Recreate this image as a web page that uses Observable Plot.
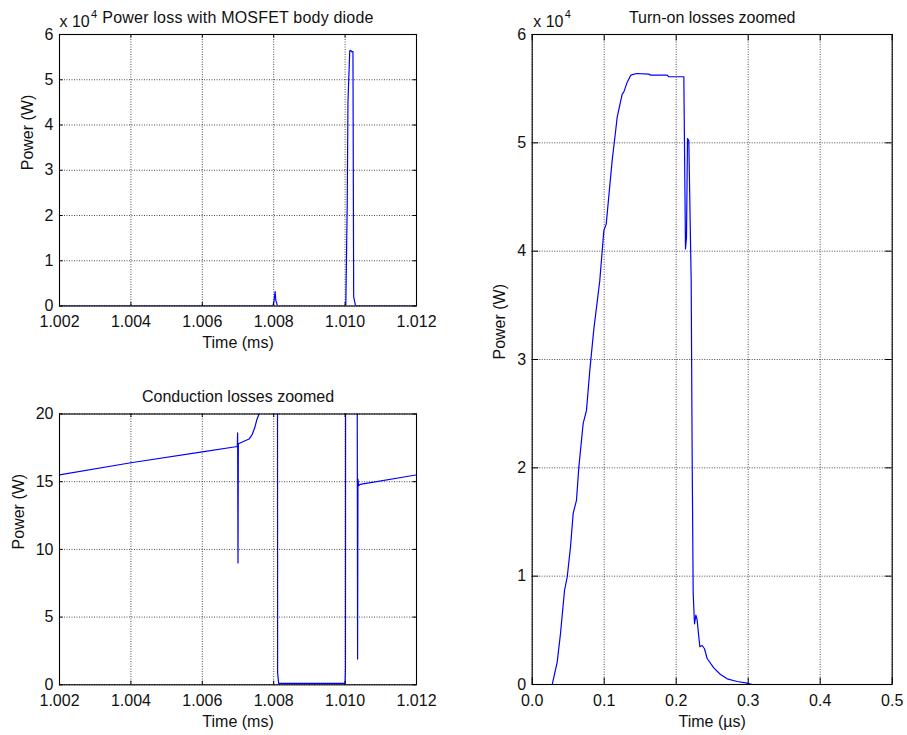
<!DOCTYPE html>
<html><head><meta charset="utf-8">
<script src="https://cdn.jsdelivr.net/npm/d3@7"></script>
<script src="https://cdn.jsdelivr.net/npm/@observablehq/plot@0.6"></script>
<style>
body{margin:0;background:#fff;}
#fig{position:relative;width:907px;height:735px;font-family:"Liberation Sans",Arial,sans-serif;}
#fig > div{position:absolute;}
</style></head><body><div id="fig"></div>
<script>
// Switching power loss of the MOSFET (time in ms, power in W)
const lossTime = [1.0020, 1.0040, 1.0060, 1.00698, 1.00699, 1.00700, 1.00701, 1.00731, 1.00740, 1.00747, 1.00753, 1.00759, 1.00762, 1.00770, 1.00785, 1.00798, 1.00801, 1.00804, 1.00806, 1.00809, 1.00810, 1.00811, 1.00812, 1.00814, 1.01000, 1.01001, 1.01002, 1.01006, 1.01008, 1.01013, 1.01016, 1.01018, 1.01022, 1.01024, 1.01029, 1.01033, 1.01035, 1.01036, 1.01038, 1.01042, 1.01200];
const lossPower = [15.5, 16.4, 17.2, 17.6, 18.6, 9.0, 17.8, 18.15, 18.5, 19.0, 19.6, 20.0, 30, 45, 60, 80, 1200, 3200, 1200, 500, 60, 0.9, 0.6, 0.1, 0.1, 1.3, 60, 23000, 45000, 56400, 56500, 56200, 56200, 2000, 150, 40, 1.9, 15.2, 14.7, 14.8, 15.5];

// Turn-on transient (time in µs, power in W)
const turnOnTime = [0, 0.0278, 0.0347, 0.0393, 0.0449, 0.0486, 0.0532, 0.0569, 0.0615, 0.0647, 0.0708, 0.0754, 0.0800, 0.0856, 0.0893, 0.0939, 0.0995, 0.1028, 0.1111, 0.1157, 0.1181, 0.1250, 0.1273, 0.1320, 0.1365, 0.1389, 0.1458, 0.1620, 0.1643, 0.1875, 0.1897, 0.2106, 0.2129, 0.2143, 0.2157, 0.2175, 0.2208, 0.2222, 0.2236, 0.2254, 0.2273, 0.2290, 0.2314, 0.2328, 0.2360, 0.2393, 0.2430, 0.2522, 0.2615, 0.2708, 0.2847, 0.2986, 0.3056, 0.5000];
const turnOnPower = [0, 0, 2060, 4700, 8700, 9900, 12700, 15800, 17000, 20000, 24100, 25300, 29000, 32800, 34800, 37300, 41900, 42500, 48400, 51000, 52400, 54500, 54700, 55600, 56200, 56300, 56400, 56350, 56250, 56250, 56100, 56100, 40200, 41300, 50400, 50200, 37300, 20700, 8400, 5600, 6400, 6000, 4400, 3500, 3600, 3300, 2400, 1540, 920, 520, 280, 120, 0, 0];

// Ticks and labels
const msTicks = [1.002, 1.004, 1.006, 1.008, 1.010, 1.012];
const usTicks = [0, 0.1, 0.2, 0.3, 0.4, 0.5];
const e4Ticks = [0, 1, 2, 3, 4, 5, 6];
const condTicks = [0, 5, 10, 15, 20];
const titles = ["Power loss with MOSFET body diode", "Conduction losses zoomed", "Turn-on losses zoomed"];
const xLabels = ["Time (ms)", "Time (µs)"];
const yLabel = "Power (W)";
const exponentBase = "x 10";
const exponentPower = "4";

const lossData = lossTime.map((t, i) => ({t, p: lossPower[i]}));
const turnOnData = turnOnTime.map((t, i) => ({t, p: turnOnPower[i]}));

const FONT = "Liberation Sans, Arial, Helvetica, sans-serif";
const FS = 16;

function panel(o) {
  const innerW = o.width - o.ml - o.mr;
  const innerH = o.height - o.mt - o.mb;
  const L = o.tickLen;
  const gridStyle = {stroke: "#000", strokeOpacity: 0.7, strokeDasharray: "1,1.5"};
  const marks = [
    Plot.ruleX(o.xTicks, {x: d => d, ...gridStyle}),
    Plot.ruleY(o.yTicks, {y: d => d, ...gridStyle}),
    Plot.line(o.data, {x: "t", y: o.y, stroke: "#0000ff", strokeWidth: 1.2, clip: true}),
    Plot.frame({stroke: "#000", strokeWidth: 1.1}),
    Plot.tickX(o.xTicks, {x: d => d, insetTop: innerH - L, stroke: "#000"}),
    Plot.tickX(o.xTicks, {x: d => d, insetBottom: innerH - L, stroke: "#000"}),
    Plot.tickY(o.yTicks, {y: d => d, insetRight: innerW - L, stroke: "#000"}),
    Plot.tickY(o.yTicks, {y: d => d, insetLeft: innerW - L, stroke: "#000"}),
    Plot.text(o.xTicks, {x: d => d, text: o.xFormat, frameAnchor: "bottom", lineAnchor: "bottom", dy: 21, fontSize: FS, fill: "#111"}),
    Plot.text(o.yTicks, {y: d => d, text: d => String(d), frameAnchor: "left", textAnchor: "end", lineAnchor: "middle", dx: -6, fontSize: FS, fill: "#111"}),
    Plot.text([o.xLabel], {frameAnchor: "bottom", lineAnchor: "bottom", dy: 42, fontSize: FS, fill: "#111"}),
    Plot.text([yLabel], {frameAnchor: "left", rotate: -90, lineAnchor: "middle", dx: o.yLabelDx, fontSize: FS, fill: "#111"}),
    Plot.text([o.title], {frameAnchor: "top", lineAnchor: "bottom", dy: o.titleDy, dx: o.titleDx || 0, fontSize: FS, fill: "#111"})
  ];
  if (o.exponent) {
    marks.push(Plot.text([exponentBase], {frameAnchor: "top-left", textAnchor: "start", lineAnchor: "bottom", dx: o.expDx, dy: -8, fontSize: FS, fill: "#111"}));
    marks.push(Plot.text([exponentPower], {frameAnchor: "top-left", textAnchor: "start", lineAnchor: "bottom", dx: o.expDx + 31.5, dy: -16.5, fontSize: 11, fill: "#111"}));
  }
  const svg = Plot.plot({
    width: o.width, height: o.height,
    marginLeft: o.ml, marginRight: o.mr, marginTop: o.mt, marginBottom: o.mb,
    x: {domain: o.xDomain, axis: null},
    y: {domain: o.yDomain, axis: null},
    style: {fontFamily: FONT, fontSize: FS + "px", background: "transparent", color: "#000", overflow: "visible"},
    marks
  });
  if (o.titleSpacing) {
    d3.select(svg).selectAll("text").filter(function() { return this.textContent === o.title; })
      .attr("letter-spacing", o.titleSpacing);
  }
  return svg;
}

const fig = document.getElementById("fig");
function place(node, left, top) {
  const d = document.createElement("div");
  d.style.left = left + "px"; d.style.top = top + "px";
  d.appendChild(node); fig.appendChild(d);
}

place(panel({
  data: lossData, y: d => d.p / 1e4,
  width: 460, height: 360, ml: 59, mr: 44, mt: 34, mb: 54.5,
  xDomain: [1.002, 1.012], yDomain: [0, 6], xTicks: msTicks, yTicks: e4Ticks,
  xFormat: d3.format(".3f"), xLabel: xLabels[0], title: titles[0], titleDy: -12, titleDx: 0, titleSpacing: "0.2px",
  yLabelDx: -32, tickLen: 3.6, exponent: true, expDx: 0
}), 0, 0);

place(panel({
  data: lossData, y: "p",
  width: 460, height: 375, ml: 59, mr: 44, mt: 53.5, mb: 50.7,
  xDomain: [1.002, 1.012], yDomain: [0, 20], xTicks: msTicks, yTicks: condTicks,
  xFormat: d3.format(".3f"), xLabel: xLabels[0], title: titles[1], titleDy: -12.5,
  yLabelDx: -40.7, tickLen: 3.6, exponent: false
}), 0, 360);

place(panel({
  data: turnOnData, y: d => d.p / 1e4,
  width: 447, height: 735, ml: 71.7, mr: 15.3, mt: 34, mb: 51,
  xDomain: [0, 0.5], yDomain: [0, 6], xTicks: usTicks, yTicks: e4Ticks,
  xFormat: d3.format(".1f"), xLabel: xLabels[1], title: titles[2], titleDy: -12,
  yLabelDx: -32, tickLen: 6.5, exponent: true, expDx: 1
}), 460, 0);
</script></body></html>
